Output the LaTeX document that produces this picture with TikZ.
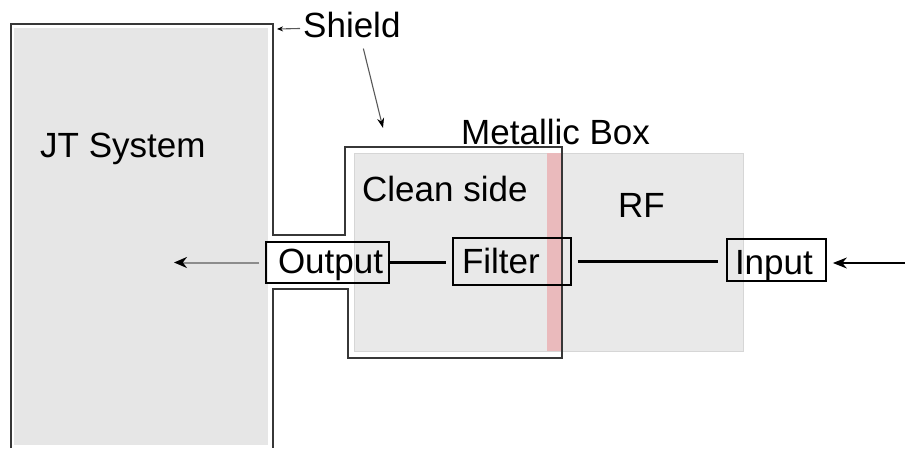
\documentclass[tikz,border=0pt]{standalone}
\usepackage{fontspec}
\setmainfont{Liberation Sans}
\usetikzlibrary{arrows.meta,positioning}
\definecolor{jtgray}{RGB}{230,230,230}
\definecolor{boxgray}{RGB}{233,233,233}
\definecolor{bandred}{RGB}{234,186,188}
\definecolor{shieldgray}{RGB}{55,55,55}
\tikzset{
  lbl/.style={anchor=base west, inner sep=0pt, font=\fontsize{35}{40}\selectfont},
  port/.style={draw, line width=1.8pt, align=left, inner ysep=0pt,
    font=\fontsize{35}{40}\selectfont},
  wire/.style={line width=3pt},
  pointer/.style={line width=1.1pt, black!65, -{Stealth[length=10pt,width=7pt,black]}}
}

\begin{document}
\begin{tikzpicture}[x=1pt,y=-1pt]
        \useasboundingbox (0,0) rectangle (905,448);
        % --- fills: JT system, metallic box area, filter wall
        \fill[jtgray] (14,28) rectangle (268,445);
        \draw[boxgray!92!black, line width=0.8pt, fill=boxgray] (354,153) rectangle (743,351);
        \fill[bandred] (547,153) rectangle (561,351);
        % --- shield outline
        \draw[shieldgray, line width=2pt, line join=miter]
          (11,448) -- (11,24) -- (273,24) -- (273,235) -- (345,235) -- (345,147) -- (562,147)
          -- (562,358) -- (348,358) -- (348,289) -- (273,289) -- (273,448);
        % --- labels
        \node[lbl] (jt) at (40,157) {JT System};
        \node[lbl] (shield) at (303,37) {Shield};
        \node[lbl] (metal) at (461,144) {Metallic Box};
        \node[lbl] (clean) at (362,201) {Clean side};
        \node[lbl] (rf) at (618,217) {RF};
        % --- ports
        \node[port, inner xsep=12pt, text width=99pt, text height=26pt, text depth=5pt, minimum height=41pt] (out) at (327.5,262.5) {Output};
        \node[port, inner xsep=9pt, text width=100pt, text height=27pt, text depth=4pt, minimum height=47pt] (filter) at (512,261.5) {Filter};
        \node[port, inner xsep=8pt, text width=83pt, text height=30pt, text depth=2pt, minimum height=42pt] (in) at (776.5,260) {Input};
        \draw[wire, shorten >=6pt] (out.east) -- (out.east -| filter.west);
        \draw[wire, shorten <=6pt, shorten >=8pt] (filter.east) -- (filter.east -| in.west);
        % --- signal in and out
        \coordinate (rfsrc) at (905,263);
        \coordinate (jtin) at (174,263);
        \draw[line width=1.2pt, -{Stealth[length=14pt,width=11pt]}, shorten >=6pt] (rfsrc) -- (rfsrc -| in.east);
        \draw[black!45, line width=2pt, -{Stealth[length=13pt,width=11pt,black]}, shorten <=6pt] (out.west) -- (out.west -| jtin);
        % --- shield pointers
        \coordinate (jtcorner) at (277,29);
        \coordinate (metalcorner) at (383,128);
        \draw[pointer, -{Stealth[length=6pt,width=5pt,black]}] ([xshift=-3pt,yshift=-4pt]shield.west) -- (jtcorner);
        \draw[pointer] ([xshift=11.5pt,yshift=-11pt]shield.south) -- (metalcorner);
      \end{tikzpicture}
\end{document}
